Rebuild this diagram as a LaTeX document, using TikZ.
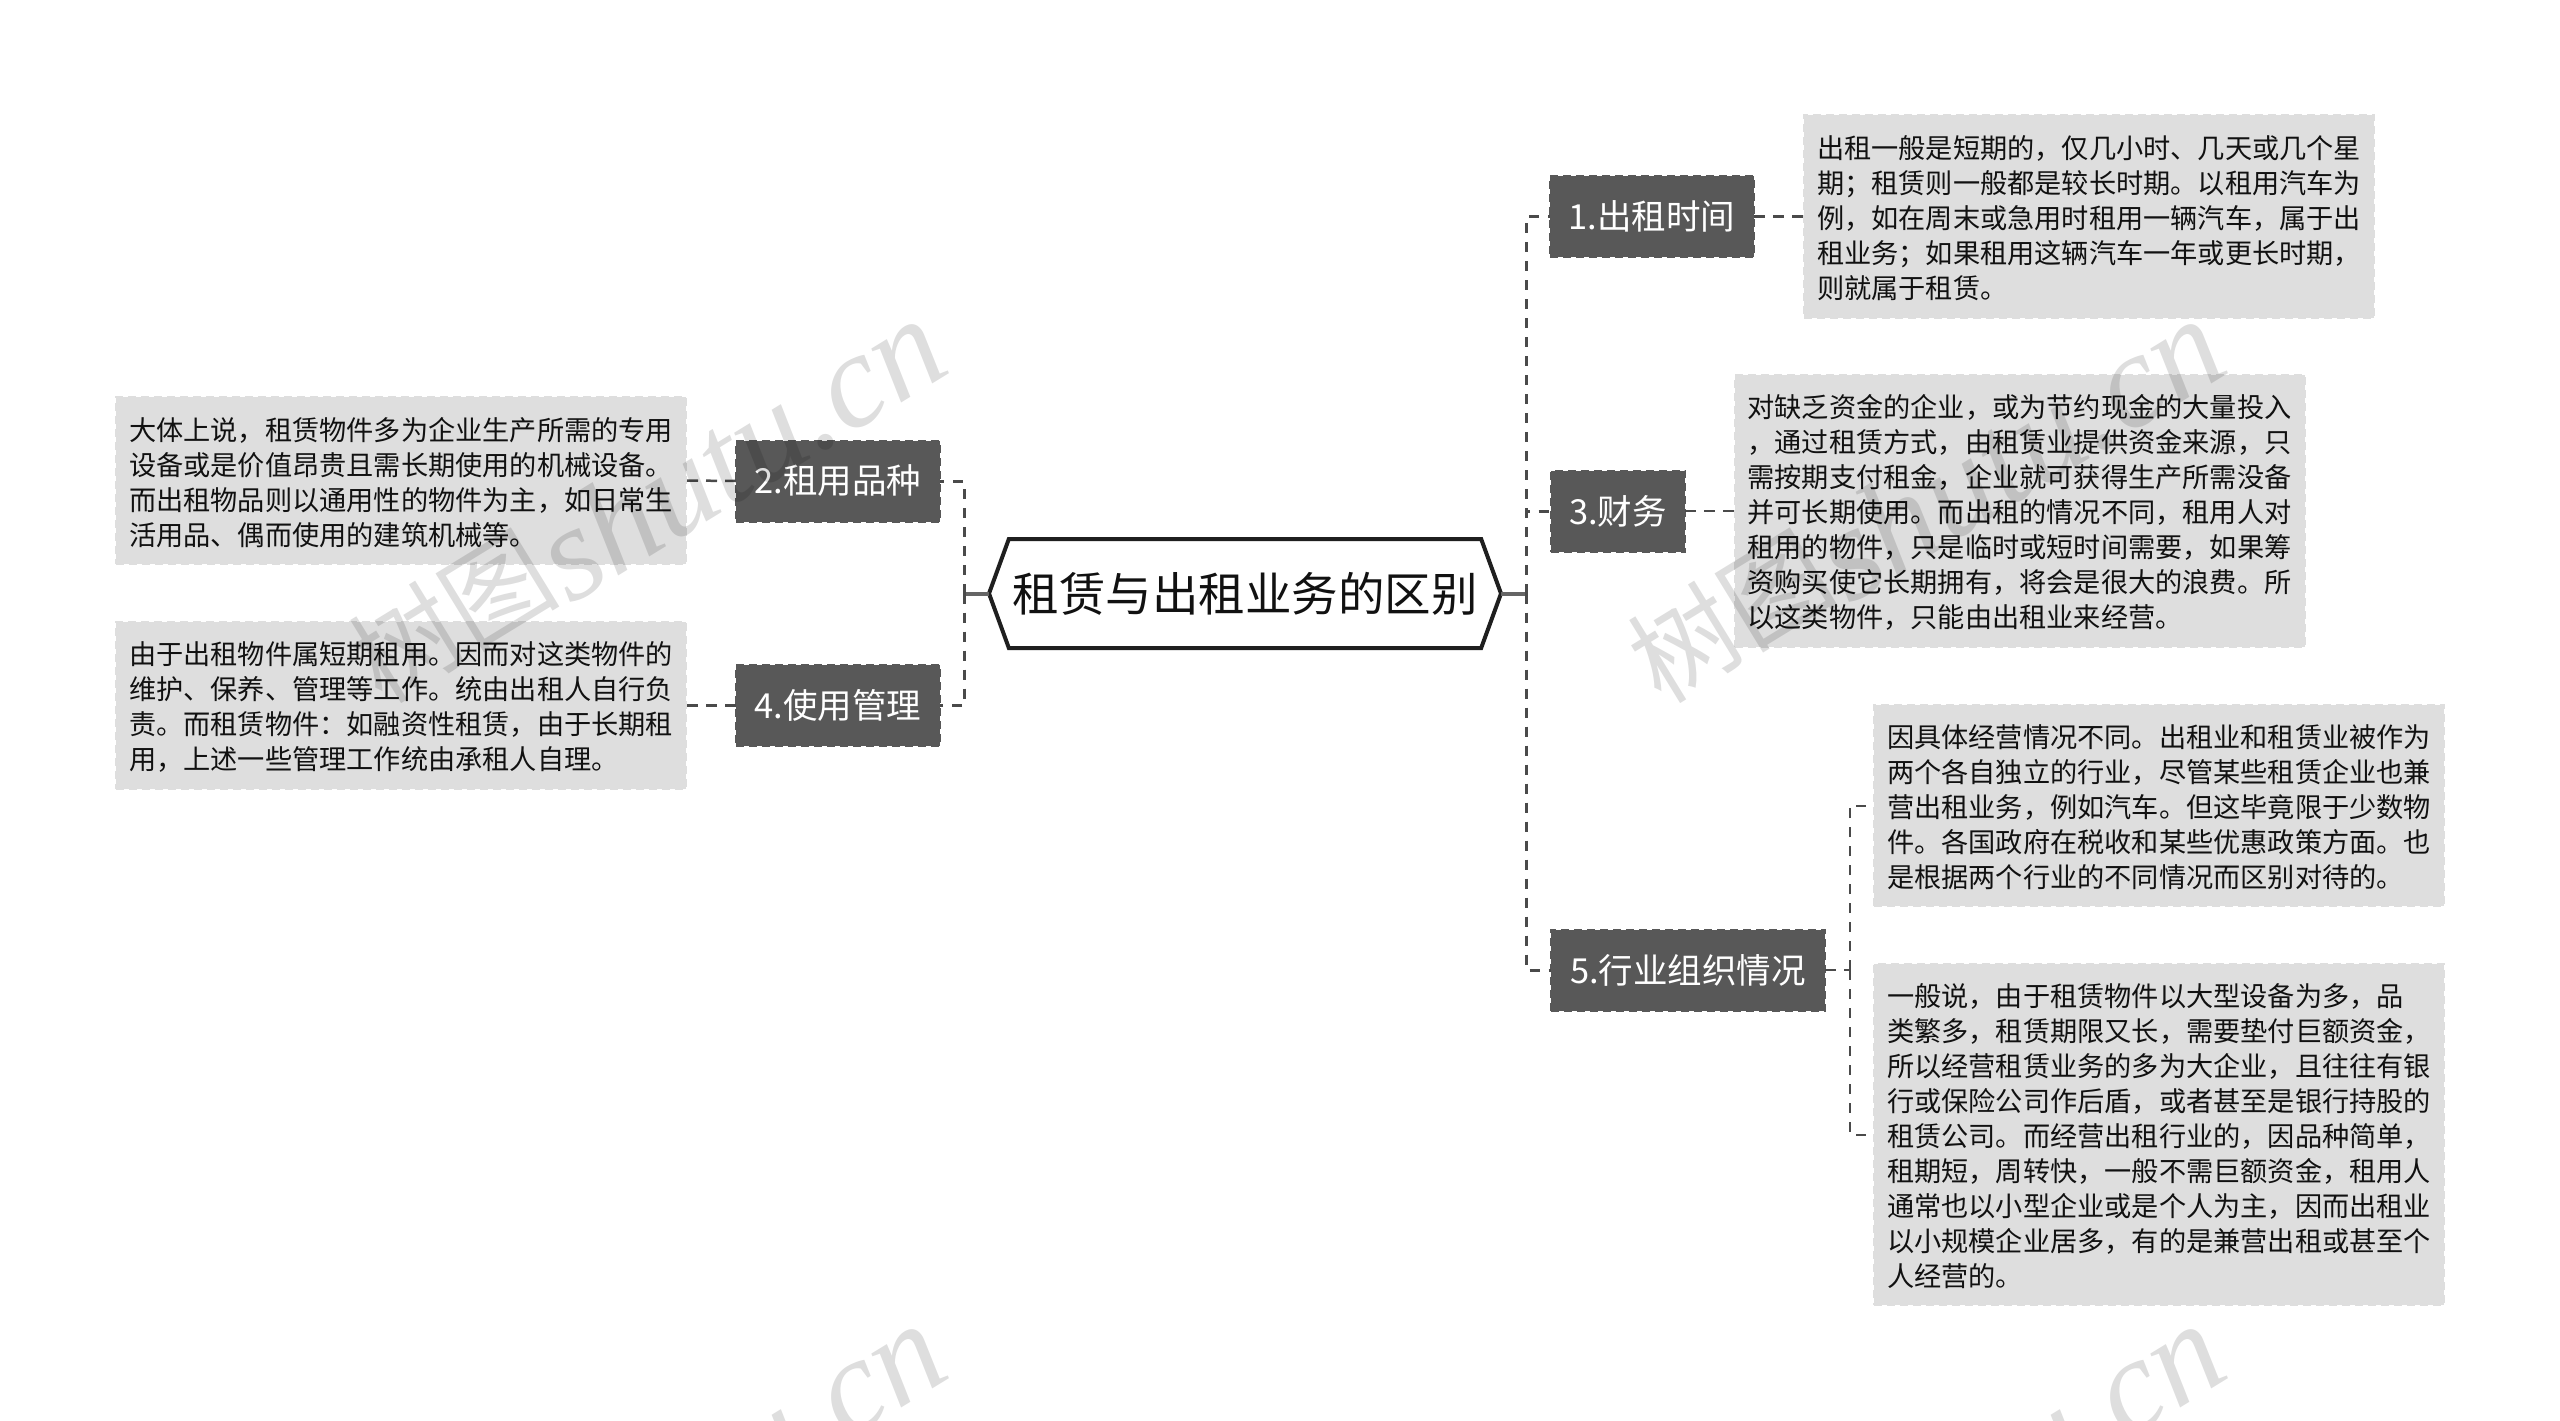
\documentclass[tikz,border=0pt]{standalone}
\usepackage{fontspec}
\setmainfont{Noto Sans CJK SC}
\newfontfamily\wmlatin{Liberation Serif}
\usetikzlibrary{shapes.symbols}
\definecolor{branchfill}{HTML}{585858}
\definecolor{leaffill}{HTML}{DEDEDE}
\definecolor{linkgray}{HTML}{4A4A4A}
\definecolor{inktext}{HTML}{111111}
\newcommand{\dropby}[1]{\raisebox{-1.5pt}{#1}}
\tikzset{
  x=1pt,y=-1pt,
  rootbox/.style={signal,signal to=west and east,signal pointer angle=140,draw=black!88,line width=4pt,fill=white,
    minimum width=512pt,minimum height=109pt,inner sep=0pt,outer sep=0pt,text=inktext,font=\fontsize{46.5}{50}\selectfont},
  branchbox/.style={rectangle,fill=branchfill,draw=branchfill,dash pattern=on 8pt off 5pt,line width=2pt,
    minimum height=81pt,inner sep=0pt,outer sep=0pt,text=white,font=\fontsize{34.5}{40}\selectfont},
  leafbox/.style={rectangle,fill=leaffill,draw=leaffill,dash pattern=on 8pt off 5pt,line width=2pt,
    minimum width=570pt,inner sep=0pt,outer sep=0pt,text width=544pt,align=left,text=inktext,
    font=\fontsize{27.2}{35}\selectfont,execute at begin node={\rule{0pt}{26.5pt}}},
  rootlink/.style={draw=linkgray!85!white,line width=4pt},
  mainlink/.style={draw=linkgray,line width=3pt,dash pattern=on 10pt off 9pt},
  leaflink/.style={draw=linkgray,line width=2.5pt,dash pattern=on 11pt off 8pt},
  sublink/.style={draw=linkgray,line width=2pt,dash pattern=on 10pt off 9pt},
  wmark/.style={rotate=31.5,anchor=base west,inner sep=0pt,text=black,text opacity=0.13},
  wmcjk/.style={wmark,font=\fontsize{106}{112}\selectfont},
  wmlat/.style={wmark,font=\wmlatin\itshape\fontsize{134}{140}\selectfont},
}
\begin{document}
\begin{tikzpicture}
\useasboundingbox (0,0) rectangle (2560,1421);
\fill[white] (0,0) rectangle (2560,1421);

\node[rootbox] (root) at (1245,593.5) {租赁与出租业务的区别};
\node[branchbox,minimum width=204pt] (n1) at (1652,216.5) {\dropby{1.出租时间}};
\node[branchbox,minimum width=134.5pt] (n3) at (1618,511) {\dropby{3.财务}};
\node[branchbox,minimum width=274pt] (n5) at (1688,970) {\dropby{5.行业组织情况}};
\node[branchbox,minimum width=204pt] (n2) at (838,481) {\dropby{2.租用品种}};
\node[branchbox,minimum width=204pt] (n4) at (838,705.5) {\dropby{4.使用管理}};

\node[leafbox,minimum height=203pt] (l1) at (2089,216.5) {出租一般是短期的，仅几小时、几天或几个星\\期；租赁则一般都是较长时期。以租用汽车为\\例，如在周末或急用时租用一辆汽车，属于出\\租业务；如果租用这辆汽车一年或更长时期，\\则就属于租赁。};
\node[leafbox,minimum height=272pt] (l3) at (2019.5,511) {对缺乏资金的企业，或为节约现金的大量投入\\，通过租赁方式，由租赁业提供资金来源，只\\需按期支付租金，企业就可获得生产所需没备\\并可长期使用。而出租的情况不同，租用人对\\租用的物件，只是临时或短时间需要，如果筹\\资购买使它长期拥有，将会是很大的浪费。所\\以这类物件，只能由出租业来经营。};
\node[leafbox,minimum height=201pt] (l5a) at (2159,805.5) {因具体经营情况不同。出租业和租赁业被作为\\两个各自独立的行业，尽管某些租赁企业也兼\\营出租业务，例如汽车。但这毕竟限于少数物\\件。各国政府在税收和某些优惠政策方面。也\\是根据两个行业的不同情况而区别对待的。};
\node[leafbox,minimum height=341pt] (l5b) at (2159,1134.5) {一般说，由于租赁物件以大型设备为多，品\\类繁多，租赁期限又长，需要垫付巨额资金，\\所以经营租赁业务的多为大企业，且往往有银\\行或保险公司作后盾，或者甚至是银行持股的\\租赁公司。而经营出租行业的，因品种简单，\\租期短，周转快，一般不需巨额资金，租用人\\通常也以小型企业或是个人为主，因而出租业\\以小规模企业居多，有的是兼营出租或甚至个\\人经营的。};
\node[leafbox,minimum height=167pt] (l2) at (401,480.5) {大体上说，租赁物件多为企业生产所需的专用\\设备或是价值昂贵且需长期使用的机械设备。\\而出租物品则以通用性的物件为主，如日常生\\活用品、偶而使用的建筑机械等。};
\node[leafbox,minimum height=167pt] (l4) at (401,705.5) {由于出租物件属短期租用。因而对这类物件的\\维护、保养、管理等工作。统由出租人自行负\\责。而租赁物件：如融资性租赁，由于长期租\\用，上述一些管理工作统由承租人自理。};

\coordinate (rj) at (1526,593.5);
\coordinate (lj) at (964,593.5);
\coordinate (sj) at (1849.5,970);

\draw[rootlink] (root.east) -- (rj);
\draw[rootlink] (root.west) -- (lj);
\draw[mainlink] (rj) |- (n1.west);
\draw[mainlink] (rj) |- (n3.west);
\draw[mainlink] (rj) |- (n5.west);
\draw[mainlink] (lj) |- (n2.east);
\draw[mainlink] (lj) |- (n4.east);
\draw[leaflink] (n1.east) -- (l1.west);
\draw[leaflink] (n3.east) -- (l3.west);
\draw[leaflink] (n2.west) -- (l2.east);
\draw[leaflink] (n4.west) -- (l4.east);
\draw[leaflink] (n5.east) -- (sj);
\draw[sublink] (sj) |- (l5a.west);
\draw[sublink] (sj) |- (l5b.west);

\begin{scope}
\clip (0,0) rectangle (2560,1421);
\node[wmcjk] (w1a) at (382,706) {树图};
\node[wmlat] (w1b) at (570,606) {shutu.cn};
\node[wmcjk] (w2a) at (1661,706) {树图};
\node[wmlat] (w2b) at (1849,606) {shutu.cn};
\node[wmlat] (w3b) at (570,1611) {shutu.cn};
\node[wmlat] (w4b) at (1849,1611) {shutu.cn};
\end{scope}
\end{tikzpicture}
\end{document}
